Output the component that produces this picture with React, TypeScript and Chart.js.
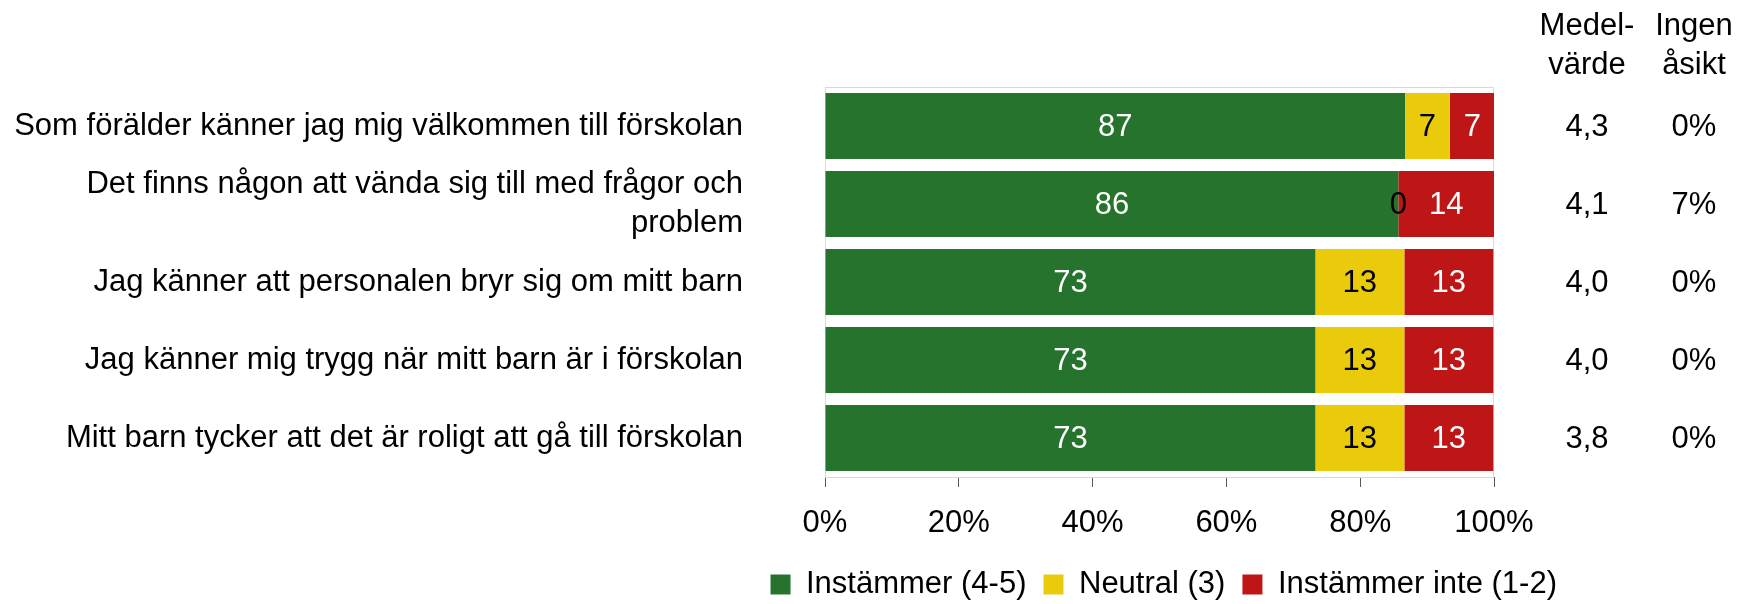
import React, { useEffect, useRef } from 'react';
import { Chart, registerables } from 'chart.js';

Chart.register(...registerables);

const FONT = '"Liberation Sans", Arial, sans-serif';

const categories: (string | string[])[] = [
  'Som förälder känner jag mig välkommen till förskolan',
  ['Det finns någon att vända sig till med frågor och', 'problem'],
  'Jag känner att personalen bryr sig om mitt barn',
  'Jag känner mig trygg när mitt barn är i förskolan',
  'Mitt barn tycker att det är roligt att gå till förskolan',
];
const seriesNames = ['Instämmer (4-5)', 'Neutral (3)', 'Instämmer inte (1-2)'];
const agree = [86.7, 85.7, 73.3, 73.3, 73.3];
const neutral = [6.7, 0, 13.3, 13.3, 13.3];
const disagree = [6.7, 14.3, 13.3, 13.3, 13.3];
const meanValues = ['4,3', '4,1', '4,0', '4,0', '3,8'];
const noOpinion = ['0%', '7%', '0%', '0%', '0%'];
const columnHeaders = [
  ['Medel-', 'värde'],
  ['Ingen', 'åsikt'],
];
const seriesColors = ['#26732E', '#E9CB0C', '#BE1616'];
const labelColors = ['#FFFFFF', '#000000', '#FFFFFF'];

export default function App() {
  const ref = useRef<HTMLCanvasElement>(null);

  useEffect(() => {
    const canvas = ref.current;
    if (!canvas) return;

    const frame = {
      id: 'frame',
      beforeDatasetsDraw(chart: any) {
        const { ctx, chartArea: a } = chart;
        ctx.save();
        ctx.strokeStyle = '#D9D9D9';
        ctx.lineWidth = 1;
        ctx.strokeRect(a.left + 0.5, a.top + 0.5, a.right - a.left - 1, a.bottom - a.top);
        ctx.restore();
      },
    };

    const valueLabels = {
      id: 'valueLabels',
      afterDatasetsDraw(chart: any) {
        const { ctx } = chart;
        ctx.save();
        ctx.font = `31px ${FONT}`;
        ctx.textAlign = 'center';
        ctx.textBaseline = 'middle';
        chart.data.datasets.forEach((ds: any, i: number) => {
          const meta = chart.getDatasetMeta(i);
          ctx.fillStyle = labelColors[i];
          meta.data.forEach((bar: any, j: number) => {
            const v = ds.data[j] as number;
            const { x, base, y } = bar.getProps(['x', 'base', 'y'], true);
            ctx.fillText(String(Math.round(v)), (x + base) / 2, y + 1);
          });
        });
        ctx.restore();
      },
    };

    const sideColumns = {
      id: 'sideColumns',
      afterDraw(chart: any) {
        const { ctx, chartArea: a } = chart;
        const yScale = chart.scales.y;
        const colX = [a.right + 93, a.right + 200];
        const colValues = [meanValues, noOpinion];
        ctx.save();
        ctx.font = `31px ${FONT}`;
        ctx.fillStyle = '#000';
        ctx.textAlign = 'center';
        ctx.textBaseline = 'alphabetic';
        columnHeaders.forEach((lines, c) => {
          lines.forEach((t, k) => ctx.fillText(t, colX[c], 35 + k * 39));
        });
        ctx.textBaseline = 'middle';
        colValues.forEach((vals, c) => {
          vals.forEach((t, j) => ctx.fillText(t, colX[c], yScale.getPixelForValue(j) + 1));
        });
        ctx.restore();
      },
    };

    const chart = new Chart(canvas, {
      type: 'bar',
      data: {
        labels: categories as any,
        datasets: [
          { label: seriesNames[0], data: agree, backgroundColor: seriesColors[0] },
          { label: seriesNames[1], data: neutral, backgroundColor: seriesColors[1] },
          { label: seriesNames[2], data: disagree, backgroundColor: seriesColors[2] },
        ],
      },
      options: {
        indexAxis: 'y',
        responsive: false,
        maintainAspectRatio: false,
        animation: false,
        layout: { padding: { top: 87, right: 173, bottom: 0, left: 0 } },
        datasets: { bar: { categoryPercentage: 1, barPercentage: 0.846 } } as any,
        scales: {
          x: {
            stacked: true,
            min: 0,
            max: 100,
            ticks: {
              stepSize: 20,
              callback: (v: any) => v + '%',
              font: { family: FONT, size: 31 },
              color: '#000',
              padding: 18,
              maxRotation: 0,
            },
            grid: { drawOnChartArea: false, drawTicks: true, tickLength: 10, color: '#595959' },
            border: { display: true, color: '#595959' },
            afterFit: (s: any) => {
              s.height = 75;
              s.paddingLeft = 0;
              s.paddingRight = 0;
            },
          },
          y: {
            stacked: true,
            ticks: {
              font: { family: FONT, size: 31, lineHeight: 1.25 },
              color: '#000',
              padding: 82,
              autoSkip: false,
            },
            grid: { display: false, drawTicks: false },
            border: { display: false },
            afterFit: (s: any) => {
              s.width = 825;
              s.paddingTop = 0;
              s.paddingBottom = 0;
            },
          },
          y2: {
            type: 'category',
            position: 'right',
            display: true,
            ticks: { display: false },
            grid: { display: false, drawTicks: false },
            border: { display: false },
            afterFit: (s: any) => {
              s.width = 80;
              s.paddingTop = 0;
              s.paddingBottom = 0;
            },
          },
        } as any,
        plugins: {
          legend: {
            position: 'bottom',
            fullSize: true,
            align: 'end',
            maxHeight: 52,
            labels: {
              boxWidth: 20,
              boxHeight: 20,
              padding: 17,
              color: '#000',
              font: { family: FONT, size: 31 },
            },
          } as any,
          tooltip: { enabled: false },
        },
      },
      plugins: [frame, valueLabels, sideColumns],
    });

    return () => chart.destroy();
  }, []);

  return (
    <div style={{ position: 'absolute', left: 0, top: 0, width: 1747, height: 604, background: '#fff' }}>
      <canvas ref={ref} width={1747} height={604} style={{ width: 1747, height: 604, display: 'block' }} />
    </div>
  );
}
